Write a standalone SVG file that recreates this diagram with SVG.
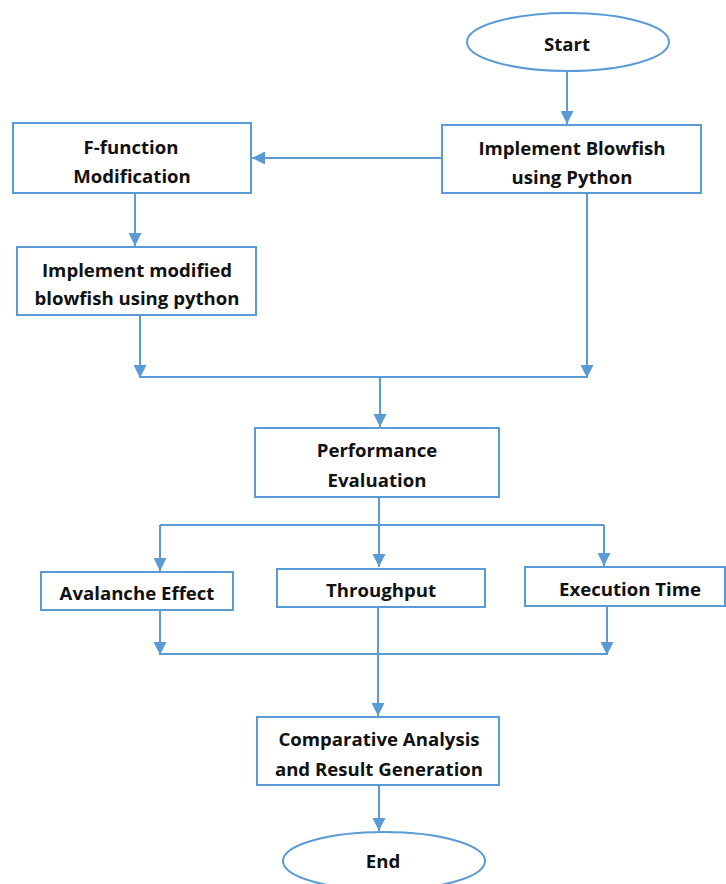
<svg xmlns="http://www.w3.org/2000/svg" width="726" height="884" viewBox="0 0 726 884">
<style>
.box{fill:#fff;stroke:#5B9BD5;stroke-width:2}
.ln{fill:none;stroke:#5B9BD5;stroke-width:2}
.t{font-family:"Open Sans","Liberation Sans",sans-serif;font-weight:700;font-size:18.6px;fill:#111;text-anchor:middle}
</style>
<defs>
<marker id="ah" viewBox="0 0 10 10" refX="10" refY="5" markerWidth="6.5" markerHeight="6.5" orient="auto" markerUnits="strokeWidth">
<path d="M0,0 L10,5 L0,10 z" fill="#5B9BD5"/>
</marker>
</defs>
<rect width="726" height="884" fill="#fff"/>
<g id="connectors">
<line class="ln" x1="567" y1="71" x2="567" y2="124" marker-end="url(#ah)"/>
<line class="ln" x1="442" y1="158" x2="252" y2="158" marker-end="url(#ah)"/>
<line class="ln" x1="135" y1="193" x2="135" y2="246" marker-end="url(#ah)"/>
<line class="ln" x1="140" y1="315" x2="140" y2="378" marker-end="url(#ah)"/>
<line class="ln" x1="587" y1="193" x2="587" y2="378" marker-end="url(#ah)"/>
<line class="ln" x1="140" y1="377" x2="587" y2="377"/>
<line class="ln" x1="380" y1="377" x2="380" y2="427" marker-end="url(#ah)"/>
<line class="ln" x1="379" y1="497" x2="379" y2="567" marker-end="url(#ah)"/>
<line class="ln" x1="160" y1="525" x2="604" y2="525"/>
<line class="ln" x1="160" y1="525" x2="160" y2="571" marker-end="url(#ah)"/>
<line class="ln" x1="604" y1="525" x2="604" y2="566" marker-end="url(#ah)"/>
<line class="ln" x1="160" y1="610" x2="160" y2="655" marker-end="url(#ah)"/>
<line class="ln" x1="607" y1="606" x2="607" y2="655" marker-end="url(#ah)"/>
<line class="ln" x1="160" y1="654" x2="607" y2="654"/>
<line class="ln" x1="378" y1="607" x2="378" y2="716" marker-end="url(#ah)"/>
<line class="ln" x1="379" y1="785" x2="379" y2="831" marker-end="url(#ah)"/>
</g>
<g id="start">
<ellipse class="box" cx="568" cy="42" rx="101" ry="29"/>
<text class="t" x="567" y="51">Start</text>
</g>
<g id="implement-blowfish">
<rect class="box" x="442" y="125" width="259" height="68"/>
<text class="t" x="572" y="155">Implement Blowfish</text>
<text class="t" x="572" y="184">using Python</text>
</g>
<g id="f-function">
<rect class="box" x="13" y="123" width="238" height="70"/>
<text class="t" x="131" y="154">F-function</text>
<text class="t" x="132" y="183">Modification</text>
</g>
<g id="implement-modified">
<rect class="box" x="17" y="247" width="239" height="68"/>
<text class="t" x="137" y="277">Implement modified</text>
<text class="t" x="137" y="305">blowfish using python</text>
</g>
<g id="performance">
<rect class="box" x="255" y="428" width="244" height="69"/>
<text class="t" x="377" y="457">Performance</text>
<text class="t" x="377" y="487">Evaluation</text>
</g>
<g id="avalanche">
<rect class="box" x="41" y="572" width="192" height="38"/>
<text class="t" x="137" y="600">Avalanche Effect</text>
</g>
<g id="throughput">
<rect class="box" x="277" y="569" width="208" height="38"/>
<text class="t" x="381" y="597">Throughput</text>
</g>
<g id="execution">
<rect class="box" x="525" y="567" width="200" height="39"/>
<text class="t" x="630" y="596">Execution Time</text>
</g>
<g id="comparative">
<rect class="box" x="257" y="717" width="242" height="68"/>
<text class="t" x="379" y="746">Comparative Analysis</text>
<text class="t" x="379" y="776">and Result Generation</text>
</g>
<g id="end">
<ellipse class="box" cx="384" cy="861" rx="101" ry="29"/>
<text class="t" x="383" y="868">End</text>
</g>
</svg>
